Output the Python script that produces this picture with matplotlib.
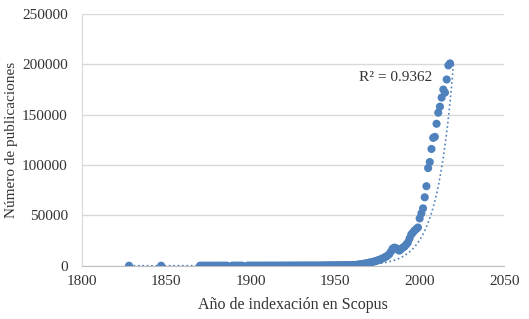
import numpy as np
import matplotlib.pyplot as plt

plt.rcParams['font.family'] = ['Liberation Serif', 'DejaVu Serif']

# years with publications indexed
years_early = [1828, 1847] + list(range(1870, 1887)) + list(range(1889, 1896))
vals_early = [3, 5, 8, 10, 12, 9, 11, 14, 15, 13, 16, 18, 17, 20, 22, 21, 24, 25, 27,
              30, 32, 31, 35, 38, 40, 42]

years_mid = list(range(1898, 1961))
vals_mid = [45, 48, 50, 55, 58, 60, 63, 66, 70, 72, 75, 80, 85, 88, 90, 95, 92, 85,
            88, 95, 100, 110, 120, 125, 130, 138, 145, 150, 160, 165, 170, 175, 180,
            185, 190, 200, 210, 205, 190, 180, 170, 175, 200, 230, 260, 280, 300,
            320, 340, 360, 380, 400, 420, 440, 460, 480, 500, 520, 540, 560, 590,
            620, 650]

years_late = list(range(1961, 2019))
vals_late = [700, 800, 1000, 1200, 1500, 1700, 2000, 2300, 2600, 3000,
             3300, 3700, 4200, 4700, 5200, 5800, 6500, 7200, 8000, 9000,
             10000, 11500, 14000, 17000, 18000, 17500, 16000, 15000, 16500, 18000,
             19000, 21000, 23000, 27000, 31000, 33000, 35000, 36500, 38000, 47000,
             52000, 57000, 68000, 79000, 97000, 103000, 116000, 127000, 128000, 141000,
             152000, 158000, 167000, 175000, 172000, 185000, 199000, 201000]

years = np.array(years_early + years_mid + years_late)
vals = np.array(vals_early + vals_mid + vals_late)

# exponential trendline: y = 200000 * exp(b * (x - 2020))
trend_end = 200000
trend_rate = 0.103
r2_text = "R² = 0.9362"

blue = '#4F81BD'

fig = plt.figure(figsize=(5.29, 3.19), dpi=100)
ax = fig.add_axes([0.1545, 0.167, 0.7985, 0.789])

tx = np.linspace(1828, 2020, 400)
ty = trend_end * np.exp(trend_rate * (tx - 2020))
ax.plot(tx, ty, ':', color=blue, lw=1.2, zorder=3)

ax.scatter(years, vals, s=34, color=blue, edgecolors='none', zorder=4)

ax.set_xlim(1800, 2050)
ax.set_ylim(0, 250000)
ax.set_xticks([1800, 1850, 1900, 1950, 2000, 2050])
ax.set_yticks(np.arange(0, 250001, 50000))
ax.yaxis.grid(True, color='#D9D9D9', lw=1)
ax.set_axisbelow(True)
for s in ['top', 'right']:
    ax.spines[s].set_visible(False)
ax.spines['left'].set_color('#D9D9D9')
ax.spines['bottom'].set_color('#BFBFBF')
ax.tick_params(length=0, labelsize=11, colors='#333333')
ax.tick_params(axis='y', pad=10)
ax.tick_params(axis='x', pad=7)

ax.set_xlabel("Año de indexación en Scopus", fontsize=11.5, color='#333333', labelpad=6)
ax.set_ylabel("Número de publicaciones", fontsize=11, color='#333333')
ax.yaxis.set_label_coords(-0.152, 0.5)

ax.text(1964, 187000, r2_text, fontsize=11, color='#333333', va='center')

fig.savefig('out.png', dpi=100)
